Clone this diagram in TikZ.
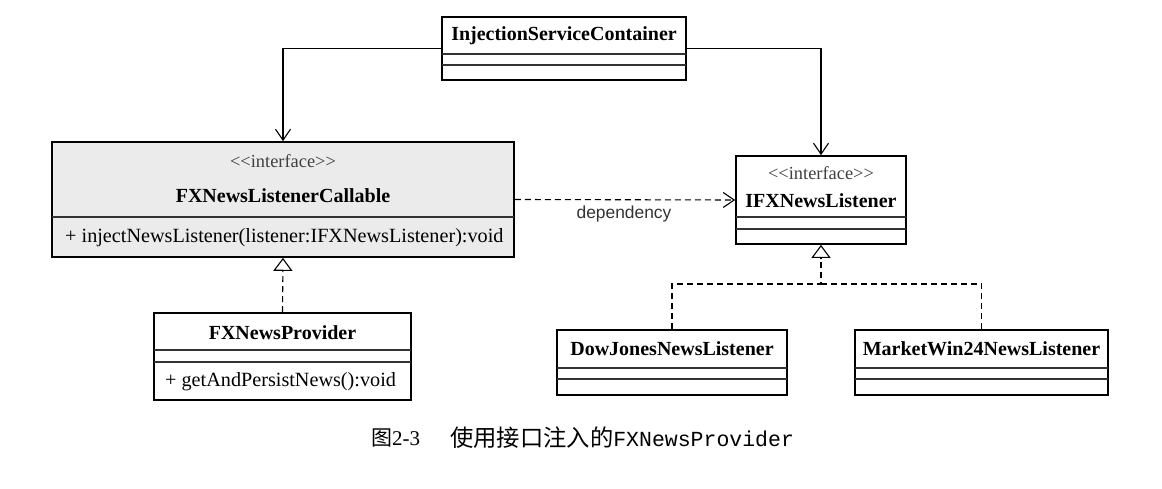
\documentclass[tikz,border=0pt]{standalone}
\usepackage{fontspec}
\setmainfont{Liberation Serif}
\setmonofont{Liberation Mono}
\newfontfamily\depfont{Liberation Sans}
\newfontfamily\cjk{Noto Sans CJK SC}
\usetikzlibrary{arrows.meta}
\tikzset{
	umlbox/.style={draw, line width=1.7pt, inner sep=0pt, fill=white},
	umlname/.style={inner sep=0pt, font=\fontsize{20}{23}\selectfont\bfseries},
	stereo/.style={inner sep=0pt, text=black!75, font=\fontsize{18.4}{21}\selectfont},
	umlop/.style={inner sep=0pt, anchor=west, font=\fontsize{20.2}{23}\selectfont},
	divider/.style={line width=1.2pt, color=black!80},
	assoc/.style={line width=1.1pt, -{Straight Barb[length=11pt,width=15pt,line width=1.1pt]}},
	depend/.style={assoc, dash pattern=on 6pt off 4pt},
	realize/.style={line width=1.1pt, dash pattern=on 6pt off 4pt, -{Triangle[open,length=13pt,width=19pt,line width=1.1pt]}},
}

\begin{document}
\begin{tikzpicture}[x=1pt, y=-1pt]
			%%%%% START %%%%%
			\useasboundingbox (0, 0) rectangle (1162, 489);
			
			% container on top
			\node[umlbox, minimum width=244pt, minimum height=63pt] (isc) at (564, 48.5) {};
			\node[umlname] (iscname) at (564, 36) {InjectionServiceContainer};
			\draw[divider] (442, 54) -- (686, 54);
			\draw[divider] (442, 65) -- (686, 65);
			
			% interface with the inject method
			\node[umlbox, fill=black!8, minimum width=462pt, minimum height=115pt] (fxc) at (283, 199.5) {};
			\node[stereo] (fxcstereo) at (283, 161) {<{}<interface>{}>};
			\node[umlname] (fxcname) at (283, 196) {FXNewsListenerCallable};
			\draw[divider] (52, 217) -- (514, 217);
			\node[umlop] (fxcop) at (65, 237.5) {+ injectNewsListener(listener:IFXNewsListener):void};
			
			% listener interface
			\node[umlbox, minimum width=170pt, minimum height=88pt] (ifx) at (821, 200) {};
			\node[stereo] (ifxstereo) at (821, 173) {<{}<interface>{}>};
			\node[umlname] (ifxname) at (821, 201) {IFXNewsListener};
			\draw[divider] (736, 217) -- (906, 217);
			\draw[divider] (736, 229) -- (906, 229);
			
			% provider
			\node[umlbox, minimum width=257pt, minimum height=87pt] (fxp) at (282.5, 356.5) {};
			\node[umlname] (fxpname) at (282.5, 333) {FXNewsProvider};
			\draw[divider] (154, 350) -- (411, 350);
			\draw[divider] (154, 362) -- (411, 362);
			\node[umlop] (fxpop) at (165, 382) {+ getAndPersistNews():void};
			
			% the two listeners
			\node[umlbox, minimum width=230pt, minimum height=65pt] (djl) at (672, 362.5) {};
			\node[umlname] (djlname) at (672, 349) {DowJonesNewsListener};
			\draw[divider] (557, 368) -- (787, 368);
			\draw[divider] (557, 379) -- (787, 379);
			
			\node[umlbox, minimum width=253pt, minimum height=65pt] (mwl) at (981.5, 362.5) {};
			\node[umlname] (mwlname) at (981.5, 349) {MarketWin24NewsListener};
			\draw[divider] (855, 368) -- (1108, 368);
			\draw[divider] (855, 379) -- (1108, 379);
			
			% connectors
			\draw[assoc] (isc.west) -| (fxc.north);
			\draw[assoc] (isc.east) -| (ifx.north);
			\draw[depend] (fxc.east) -- (ifx.west);
			\node[inner sep=0pt, text=black!80, font=\depfont\fontsize{17.4}{20}\selectfont] (deplabel) at (624, 214) {dependency};
			
			\draw[realize] (fxp.north) -- (fxc.south);
			\coordinate (join) at (821, 284);
			\draw[realize] (djl.north) |- (join) -- (ifx.south);
			\draw[line width=1.1pt, dash pattern=on 6pt off 4pt] (mwl.north) |- (join);
			
			% caption
			\node[inner sep=0pt, anchor=west, font=\fontsize{21}{24}\selectfont] (capnum) at (371, 438) {{\cjk 图}2-3};
			\node[inner sep=0pt, anchor=west, font=\fontsize{21.5}{24}\selectfont] (captext) at (450, 438) {{\cjk\fontsize{23.3}{26}\selectfont 使用接口注入的}\texttt{FXNewsProvider}};
			
			%%%%% END %%%%%
		\end{tikzpicture}
\end{document}
